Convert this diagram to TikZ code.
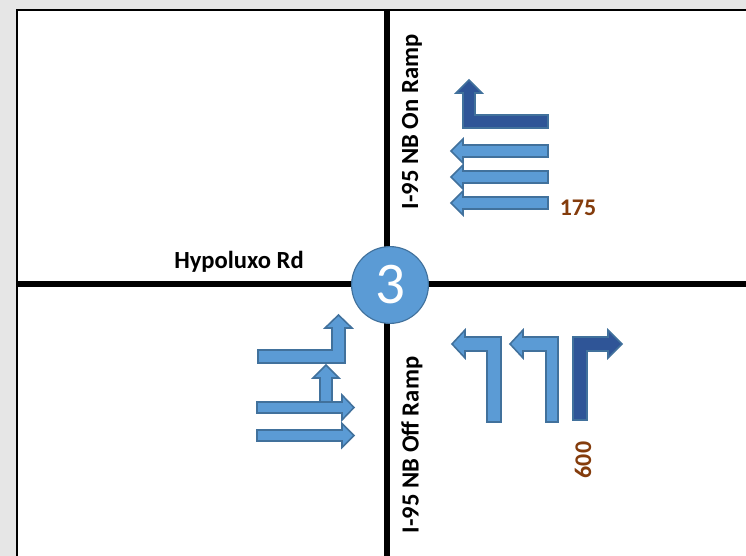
\documentclass[tikz,border=0pt]{standalone}
\usepackage{fontspec}
\setmainfont{Carlito}

\definecolor{lanelight}{HTML}{5B9BD5}
\definecolor{lanedark}{HTML}{2F5597}
\definecolor{laneedge}{HTML}{41719C}
\definecolor{volbrown}{HTML}{843C0C}
\definecolor{pagegray}{HTML}{E6E6E6}

\tikzset{
  lightarrow/.style={fill=lanelight, draw=laneedge, line width=1.1pt, line join=miter},
  darkarrow/.style={fill=lanedark, draw=laneedge, line width=1.1pt, line join=miter},
  roadline/.style={line width=3.6pt, black},
  roadname/.style={font=\fontsize{17.5}{19}\selectfont\bfseries},
  volume/.style={font=\fontsize{17}{19}\selectfont\bfseries, text=volbrown}
}

\begin{document}
\begin{tikzpicture}[x=0.025cm, y=-0.025cm]

    % Page and white panel
    \fill[pagegray] (0,0) rectangle (746,556);
    \useasboundingbox (0,0) rectangle (746,556);
    \fill[white] (17,10) rectangle (746,556);
    \draw[line width=1.5pt] (17,556) -- (17,10) -- (746,10);

    % Road centre lines
    \draw[roadline] (387,10) -- (387,556);
    \draw[roadline] (17,284) -- (746,284);

    % Intersection number
    \node[circle, fill=lanelight, draw=laneedge, line width=0.8pt, minimum size=1.92cm,
          inner sep=0pt, text=white, font=\fontsize{42}{44}\selectfont] (junction) at (390,285) {3};

    % Road names
    \node[roadname] (hypoluxo) at (239,262) {Hypoluxo Rd};
    \node[roadname, rotate=90] (onramp) at (412,122) {I-95 NB On Ramp};
    \node[roadname, rotate=90] (offramp) at (412,445) {I-95 NB Off Ramp};

    % On ramp approach: left turn and three lefts
    \draw[darkarrow] (548,115) -- (548,128) -- (463,128) -- (463,93) -- (456,93) -- (469,80) -- (482,93) -- (475,93) -- (475,115) -- cycle;
    \foreach \c in {151,177,203}
      \draw[lightarrow] (548,\c-6) -- (463,\c-6) -- (463,\c-12) -- (451,\c) -- (463,\c+12) -- (463,\c+6) -- (548,\c+6) -- cycle;
    \node[volume] (vol175) at (578,208) {175};

    % Hypoluxo eastbound approach
    \draw[lightarrow] (258,350) -- (332,350) -- (332,328) -- (325,328) -- (338.5,315) -- (352,328) -- (345,328) -- (345,363) -- (258,363) -- cycle;
    \draw[lightarrow] (320,404) -- (320,378) -- (313,378) -- (326,365) -- (339,378) -- (332,378) -- (332,404) -- cycle;
    \draw[lightarrow] (257,402) -- (342,402) -- (342,395) -- (354,407.5) -- (342,420) -- (342,413) -- (257,413) -- cycle;
    \draw[lightarrow] (257,430) -- (342,430) -- (342,423.5) -- (354,435.5) -- (342,447.5) -- (342,441) -- (257,441) -- cycle;

    % Off ramp approach: two lefts and a right
    \draw[lightarrow] (487,422) -- (487,351) -- (465,351) -- (465,358) -- (452,344) -- (465,330) -- (465,337) -- (501,337) -- (501,422) -- cycle;
    \draw[lightarrow] (546,422) -- (546,351) -- (523,351) -- (523,358) -- (510,344) -- (523,330) -- (523,337) -- (558,337) -- (558,422) -- cycle;
    \draw[darkarrow] (573,420) -- (573,337) -- (608,337) -- (608,330) -- (622,344) -- (608,358) -- (608,351) -- (587,351) -- (587,420) -- cycle;
    \node[volume, rotate=90] (vol600) at (583,460) {600};

\end{tikzpicture}
\end{document}
